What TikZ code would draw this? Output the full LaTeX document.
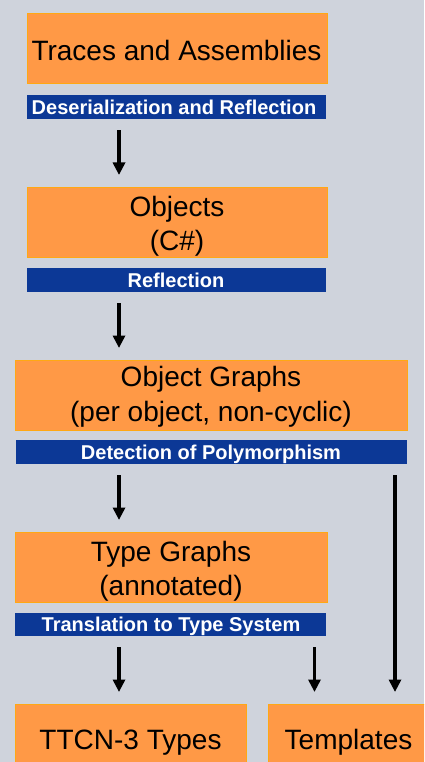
\documentclass[tikz,border=0pt]{standalone}
\usepackage{fontspec}
\setmainfont{Liberation Sans}
\usetikzlibrary{arrows.meta}
\definecolor{bg}{RGB}{207,211,220}
\definecolor{boxfill}{RGB}{255,153,70}
\definecolor{boxedge}{RGB}{255,168,20}
\definecolor{barblue}{RGB}{12,56,150}
\begin{document}
\begin{tikzpicture}[x=1pt,y=-1pt,
  box/.style={draw=boxedge, line width=1pt, fill=boxfill, inner sep=0pt},
  bar/.style={fill=barblue, inner sep=0pt},
  txt/.style={font=\fontsize{28}{34}\selectfont, inner sep=0pt, anchor=base},
  btxt/.style={font=\fontsize{20}{24}\selectfont\bfseries, text=white, inner sep=0pt, anchor=base},
  arr/.style={line width=3.3pt, -{Triangle[width=12pt,length=12.5pt]}, shorten <=11.5pt, shorten >=11.5pt}]
\useasboundingbox (0,0) rectangle (424,762);
\fill[bg] (0,0) rectangle (424,762);
\clip (0,0) rectangle (424,762);
% boxes
\node[box, minimum width=300pt, minimum height=70pt] (b1) at (177,49) {};
\node[box, minimum width=300pt, minimum height=70pt] (b2) at (177,222) {};
\node[box, minimum width=392pt, minimum height=70pt] (b3) at (211,395) {};
\node[box, minimum width=312pt, minimum height=70pt] (b4) at (171,567) {};
\node[box, minimum width=231pt, minimum height=90pt] (b5) at (130.5,749) {};
\node[box, minimum width=180pt, minimum height=90pt] (b6) at (358,749) {};
% bars
\node[bar, minimum width=299pt, minimum height=23.5pt] (r1) at (176.5,107) {};
\node[bar, minimum width=299pt, minimum height=23.5pt] (r2) at (176.5,280) {};
\node[bar, minimum width=391pt, minimum height=23.5pt] (r3) at (211.5,452) {};
\node[bar, minimum width=311pt, minimum height=22.5pt] (r4) at (170.5,624.5) {};
% box texts
\node[txt] (t1) at (176.5,60.7) {Traces and Assemblies};
\node[txt] (t2a) at (177,216.7) {Objects};
\node[txt] (t2b) at (177,250) {(C\#)};
\node[txt] (t3a) at (211,386.7) {Object Graphs};
\node[txt] (t3b) at (211,421.2) {(per object, non-cyclic)};
\node[txt] (t4a) at (171,561) {Type Graphs};
\node[txt] (t4b) at (171,595) {(annotated)};
\node[txt] (t5) at (130.5,749.3) {TTCN-3 Types};
\node[txt] (t6) at (348.5,749.3) {Templates};
% bar texts
\node[btxt] (s1) at (174,115) {Deserialization and Reflection};
\node[btxt] (s2) at (176,287.3) {Reflection};
\node[btxt] (s3) at (211,459.3) {Detection of Polymorphism};
\node[btxt] (s4) at (171,631.5) {Translation to Type System};
% arrows
\coordinate (c1) at (119,0);
\coordinate (c2) at (314.5,0);
\coordinate (c3) at (395,0);
\draw[arr] (c1 |- r1.south) -- (c1 |- b2.north);
\draw[arr] (c1 |- r2.south) -- (c1 |- b3.north);
\draw[arr] (c1 |- r3.south) -- (c1 |- b4.north);
\draw[arr] (c3 |- r3.south) -- (c3 |- b6.north);
\draw[arr] (c1 |- r4.south) -- (c1 |- b5.north);
\draw[arr] (c2 |- r4.south) -- (c2 |- b6.north);
\end{tikzpicture}
\end{document}
